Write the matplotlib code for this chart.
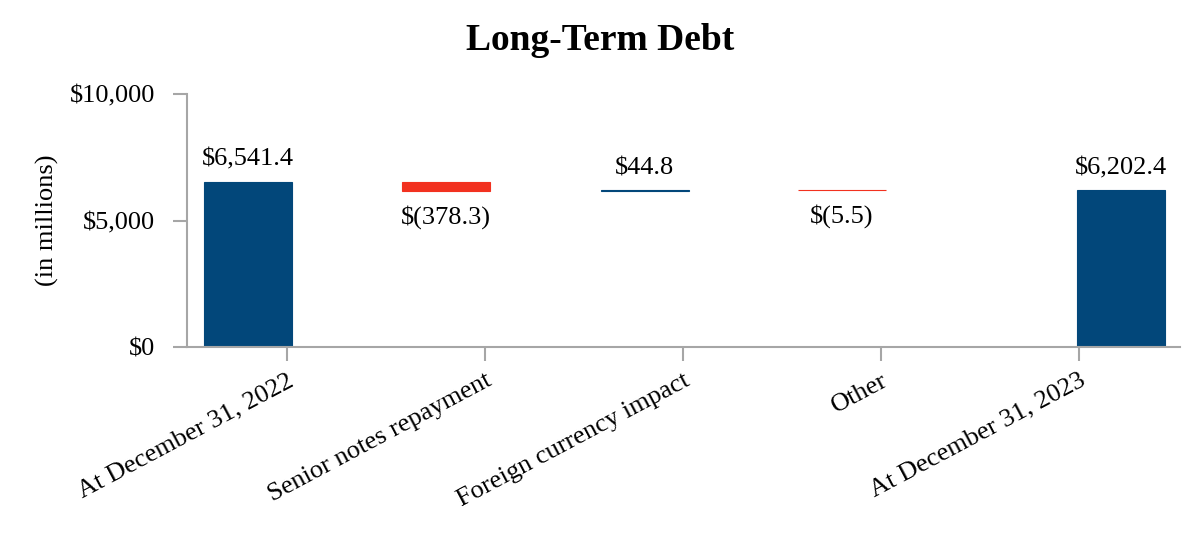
"""Long-Term Debt waterfall (in millions)."""

import matplotlib
matplotlib.use("Agg")
import matplotlib.pyplot as plt
from matplotlib.ticker import FuncFormatter

plt.rcParams["font.family"] = ["Liberation Serif", "DejaVu Serif"]

CATEGORIES = [
    "At December 31, 2022",
    "Senior notes repayment",
    "Foreign currency impact",
    "Other",
    "At December 31, 2023",
]
START = 6541.4
CHANGES = [-378.3, 44.8, -5.5]
END = 6202.4
LABELS = ["$6,541.4", "$(378.3)", "$44.8", "$(5.5)", "$6,202.4"]

BLUE = "#02477a"
RED = "#f2311f"
GREY = "#a6a6a6"
FS = 19

# bar left edges relative to the category tick (Excel-style offset)
BAR_OFFSET = [-0.42, -0.42, -0.415, -0.42, -0.01]
BAR_W = 0.445

fig = plt.figure(figsize=(12, 5.4), dpi=100)
ax = fig.add_axes([0.156, 0.357, 0.827, 0.469])

# build waterfall bottoms / heights
bottoms, heights, colors = [0.0], [START], [BLUE]
level = START
for ch in CHANGES:
    new = level + ch
    bottoms.append(min(level, new))
    heights.append(abs(ch))
    colors.append(BLUE if ch > 0 else RED)
    level = new
bottoms.append(0.0)
heights.append(END)
colors.append(BLUE)

for i, (b, h, c) in enumerate(zip(bottoms, heights, colors)):
    x0 = i + BAR_OFFSET[i]
    ax.bar(x0, h, bottom=b, width=BAR_W, align="edge", color=c,
           edgecolor=c, linewidth=0.8)
    xc = x0 + BAR_W / 2
    negative = 0 < i < len(CATEGORIES) - 1 and CHANGES[i - 1] < 0
    if negative:
        ax.text(xc, b - 560, LABELS[i], ha="center", va="top", fontsize=FS)
    else:
        ax.text(xc, b + h + 420, LABELS[i], ha="center", va="bottom",
                fontsize=FS)

ax.set_xlim(-0.505, 4.51)
ax.set_ylim(0, 10000)
ax.set_yticks([0, 5000, 10000])
ax.yaxis.set_major_formatter(FuncFormatter(lambda v, _: f"${v:,.0f}"))
ax.set_xticks(range(len(CATEGORIES)))
ax.set_xticklabels(CATEGORIES, rotation=28, ha="right",
                   rotation_mode="anchor", fontsize=FS)

for side in ("top", "right"):
    ax.spines[side].set_visible(False)
for side in ("left", "bottom"):
    ax.spines[side].set_color(GREY)
    ax.spines[side].set_linewidth(1.5)
ax.tick_params(axis="both", colors=GREY, width=1.5, length=10,
               labelcolor="black", labelsize=FS)
ax.tick_params(axis="x", pad=6)
ax.tick_params(axis="y", pad=13)

ax.set_ylabel("(in millions)", fontsize=FS, labelpad=8)
fig.suptitle("Long-Term Debt", fontsize=27, fontweight="bold", y=0.958)

fig.savefig("out.png", dpi=100)
